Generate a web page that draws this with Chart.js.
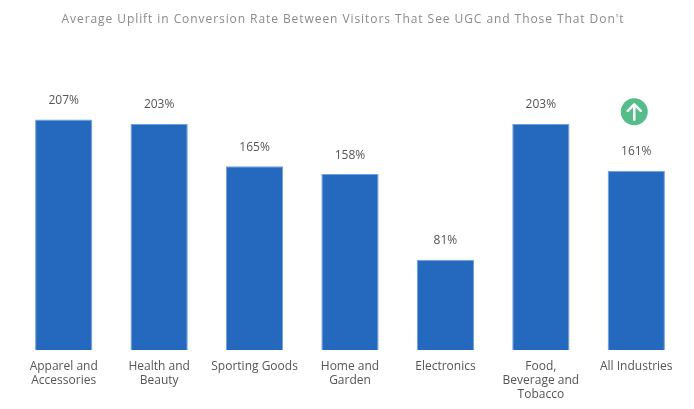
<!DOCTYPE html>
<html>
<head>
<meta charset="utf-8">
<style>
  html, body { margin: 0; padding: 0; background: #fff; }
  canvas { display: block; }
</style>
<script src="https://cdn.jsdelivr.net/npm/chart.js@4"></script>
</head>
<body>
<canvas id="chart" width="694" height="409"></canvas>
<script>
var chartTitle = "Average Uplift in Conversion Rate Between Visitors That See UGC and Those That Don't";
var categories = [
  ['Apparel and', 'Accessories'],
  ['Health and', 'Beauty'],
  'Sporting Goods',
  ['Home and', 'Garden'],
  'Electronics',
  ['Food,', 'Beverage and', 'Tobacco'],
  'All Industries'
];
var uplift = [207, 203, 165, 158, 81, 203, 161];
var valueLabels = ['207%', '203%', '165%', '158%', '81%', '203%', '161%'];

// title is drawn here so the letter spacing doesn't leak into the tick labels
var titlePlugin = {
  id: 'spacedTitle',
  afterDraw: function(chart) {
    var ctx = chart.ctx;
    ctx.save();
    ctx.font = '12px "Open Sans"';
    ctx.letterSpacing = '0.93px';
    ctx.fillStyle = '#8a8a8a';
    ctx.textAlign = 'center';
    ctx.textBaseline = 'middle';
    ctx.fillText(chartTitle, 343, 20);
    ctx.restore();
  }
};

var valueLabelPlugin = {
  id: 'valueLabels',
  afterDatasetsDraw: function(chart) {
    var ctx = chart.ctx;
    ctx.save();
    ctx.font = '12px "Open Sans"';
    ctx.fillStyle = '#555';
    ctx.textAlign = 'center';
    ctx.textBaseline = 'middle';
    chart.getDatasetMeta(0).data.forEach(function(bar, i) {
      ctx.fillText(valueLabels[i], bar.x, bar.y - 19);
    });
    ctx.restore();
  }
};

// green up arrow above the last bar
var arrowPlugin = {
  id: 'upArrow',
  afterDatasetsDraw: function(chart) {
    var bars = chart.getDatasetMeta(0).data;
    var last = bars[bars.length - 1];
    var ctx = chart.ctx;
    var x = last.x - 2;
    var y = last.y - 59;
    ctx.save();
    ctx.fillStyle = '#55bd8a';
    ctx.beginPath();
    ctx.arc(x, y, 13.5, 0, Math.PI * 2);
    ctx.fill();
    ctx.strokeStyle = '#fff';
    ctx.lineWidth = 2.5;
    ctx.lineCap = 'round';
    ctx.lineJoin = 'round';
    ctx.beginPath();
    ctx.moveTo(x, y + 8);
    ctx.lineTo(x, y - 7);
    ctx.moveTo(x - 6.5, y - 1);
    ctx.lineTo(x, y - 7.5);
    ctx.lineTo(x + 6.5, y - 1);
    ctx.stroke();
    ctx.restore();
  }
};

new Chart(document.getElementById('chart').getContext('2d'), {
  type: 'bar',
  data: {
    labels: categories,
    datasets: [{
      data: uplift,
      backgroundColor: '#2569bf',
      borderColor: '#6f9fdc',
      borderWidth: 1,
      barPercentage: 0.6,
      categoryPercentage: 1
    }]
  },
  options: {
    responsive: false,
    animation: false,
    layout: { padding: { left: 16, right: 10, top: 94, bottom: 5 } },
    plugins: {
      legend: { display: false },
      tooltip: { enabled: false }
    },
    scales: {
      x: {
        grid: { display: false },
        border: { display: false },
        ticks: {
          color: '#555',
          font: { family: '"Open Sans"', size: 12, lineHeight: 1.17 },
          padding: 2,
          maxRotation: 0,
          autoSkip: false
        }
      },
      y: {
        display: false,
        min: 0,
        max: 230
      }
    }
  },
  plugins: [titlePlugin, valueLabelPlugin, arrowPlugin]
});
</script>
</body>
</html>
